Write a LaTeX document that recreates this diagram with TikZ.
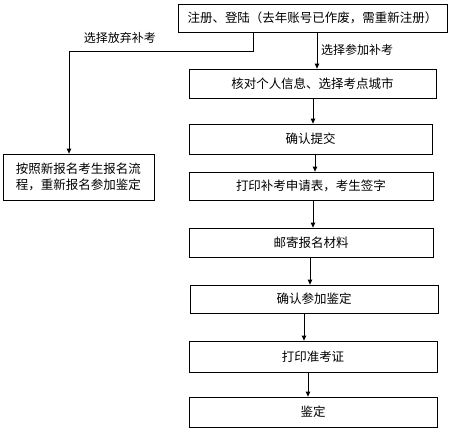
\documentclass[tikz,border=0pt]{standalone}
\usepackage{fontspec}
\setmainfont{Noto Sans CJK SC}
\usetikzlibrary{arrows.meta}
\begin{document}
\begin{tikzpicture}[x=1pt,y=-1pt,
  box/.style={draw, line width=0.8pt, inner sep=0pt, font=\fontsize{12.5}{16}\selectfont},
  arr/.style={line width=0.8pt, -{Triangle[length=5pt,width=4.5pt]}},
  lbl/.style={font=\fontsize{12}{14}\selectfont, inner sep=0pt}]
\useasboundingbox (0,0) rectangle (451,432);
\node[box, minimum width=269pt, minimum height=28pt] (b1) at (312.5,18) {注册、登陆（去年账号已作废，需重新注册）};
\node[box, minimum width=151pt, minimum height=46pt, align=left] (bl) at (78.5,177) {按照新报名考生报名流\\程，重新报名参加鉴定};
\node[box, minimum width=247pt, minimum height=29pt] (b2) at (312.5,83.5) {核对个人信息、选择考点城市};
\node[box, minimum width=243pt, minimum height=30pt] (b3) at (310.5,139) {确认提交};
\node[box, minimum width=244pt, minimum height=28pt] (b4) at (311,186) {打印补考申请表，考生签字};
\node[box, minimum width=244pt, minimum height=29pt] (b5) at (311,242.5) {邮寄报名材料};
\node[box, minimum width=248pt, minimum height=28pt] (b6) at (314,299) {确认参加鉴定};
\node[box, minimum width=248pt, minimum height=31pt] (b7) at (313,356.5) {打印准考证};
\node[box, minimum width=248pt, minimum height=30pt] (b8) at (313,412) {鉴定};
\coordinate (xl0) at (253,0);
\coordinate (c1) at (253,51);
\coordinate (c2) at (69,51);
\coordinate (x1) at (317,0);
\coordinate (x2) at (313,0);
\coordinate (x3) at (315,0);
\coordinate (x4) at (313,0);
\coordinate (x5) at (310,0);
\coordinate (x6) at (304,0);
\coordinate (x7) at (308,0);
\draw[arr] (b1.south -| xl0) -- (c1) -- (c2) -- (bl.north -| c2);
\draw[arr] (b1.south -| x1) -- (b2.north -| x1);
\draw[arr] (b2.south -| x2) -- (b3.north -| x2);
\draw[arr] (b3.south -| x3) -- (b4.north -| x3);
\draw[arr] (b4.south -| x4) -- (b5.north -| x4);
\draw[arr] (b5.south -| x5) -- (b6.north -| x5);
\draw[arr] (b6.south -| x6) -- (b7.north -| x6);
\draw[arr] (b7.south -| x7) -- (b8.north -| x7);
\node[lbl] (l1) at (120,38) {选择放弃补考};
\node[lbl, anchor=west] (l2) at (321,50) {选择参加补考};
\end{tikzpicture}
\end{document}
